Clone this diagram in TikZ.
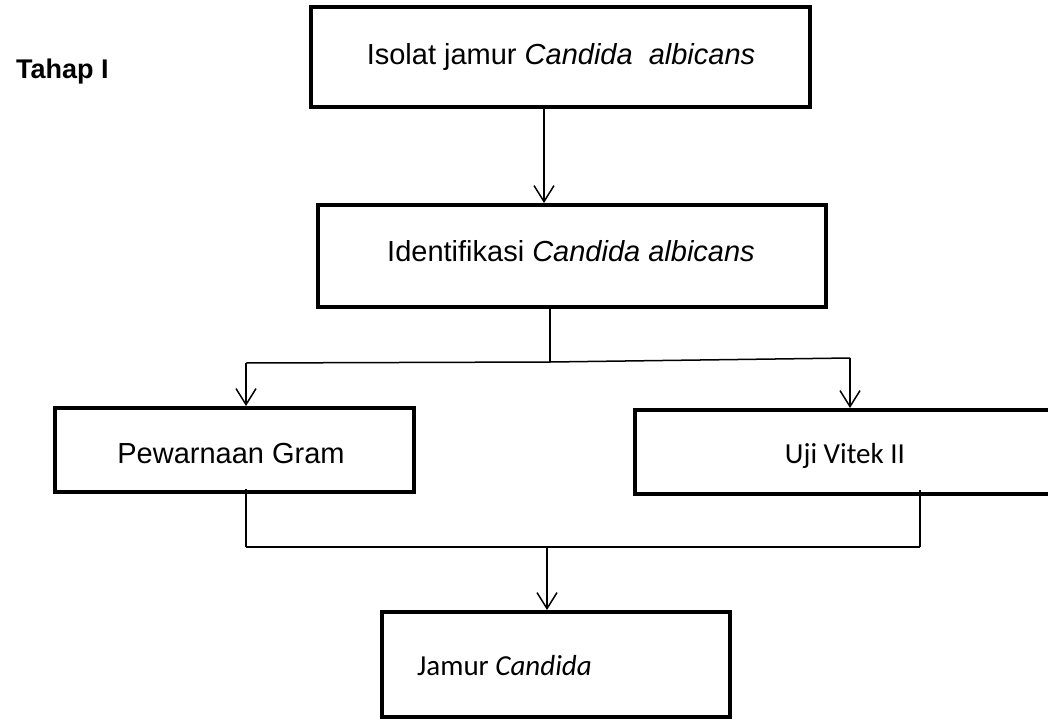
\documentclass[tikz,border=0pt]{standalone}
\usepackage{fontspec}
\setmainfont{Liberation Sans}
\newfontfamily\calib{Carlito}
\usetikzlibrary{arrows.meta}
\tikzset{
  box/.style={draw=black, line width=4pt, inner sep=0pt, rectangle},
  txt/.style={anchor=base, inner sep=0pt, font=\fontsize{29}{32}\selectfont},
  ctxt/.style={anchor=base west, inner sep=0pt, font=\calib\fontsize{29}{32}\selectfont},
  conn/.style={line width=1.5pt, draw=black},
  arr/.style={conn, -{Straight Barb[length=16pt,width=20pt,line width=1.5pt]}}
}
\begin{document}
\begin{tikzpicture}[x=1pt,y=-1pt]
\useasboundingbox (0,0) rectangle (1048,722);
% boxes
\node[box, minimum width=499pt, minimum height=100pt] (b1) at (560.5,57) {};
\node[box, minimum width=508pt, minimum height=102pt] (b2) at (572,256) {};
\node[box, minimum width=359pt, minimum height=84pt] (b3) at (234.5,450) {};
\node[box, minimum width=420pt, minimum height=84pt] (b4) at (845,452) {};
\node[box, minimum width=348pt, minimum height=105pt] (b5) at (556,664.5) {};
% texts
\node[txt, anchor=base west, font=\bfseries\fontsize{27}{30}\selectfont] (t0) at (16,79) {Tahap I};
\node[txt] (t1) at (561,65) {Isolat jamur \textit{Candida}\ \ \textit{albicans}};
\node[txt] (t2) at (571,261) {Identifikasi \textit{Candida albicans}};
\node[txt] (t3) at (231,463) {Pewarnaan Gram};
\node[txt, font=\calib\fontsize{29}{32}\selectfont] (t4) at (845,463) {Uji Vitek II};
\node[ctxt] (t5) at (417,675) {Jamur \textit{Candida}};
% connectors
\draw[arr] (b1.south -| 544,0) -- (b2.north -| 544,0);
\coordinate (j1) at (550,362);
\coordinate (l1) at (246,363);
\coordinate (r1) at (850,358);
\draw[conn] (b2.south -| j1) -- (j1);
\draw[conn] (l1) -- (j1) -- (r1);
\draw[arr] (l1) -- (b3.north -| l1);
\draw[arr] (r1) -- (b4.north -| r1);
\coordinate (l2) at (246,547);
\coordinate (r2) at (920,547);
\coordinate (m2) at (547,547);
\draw[conn] ([yshift=5pt]b3.south -| l2) -- (l2);
\draw[conn] ([yshift=6pt]b4.south -| r2) -- (r2);
\draw[conn] (l2) -- (r2);
\draw[arr] (m2) -- (b5.north -| m2);
\end{tikzpicture}
\end{document}
